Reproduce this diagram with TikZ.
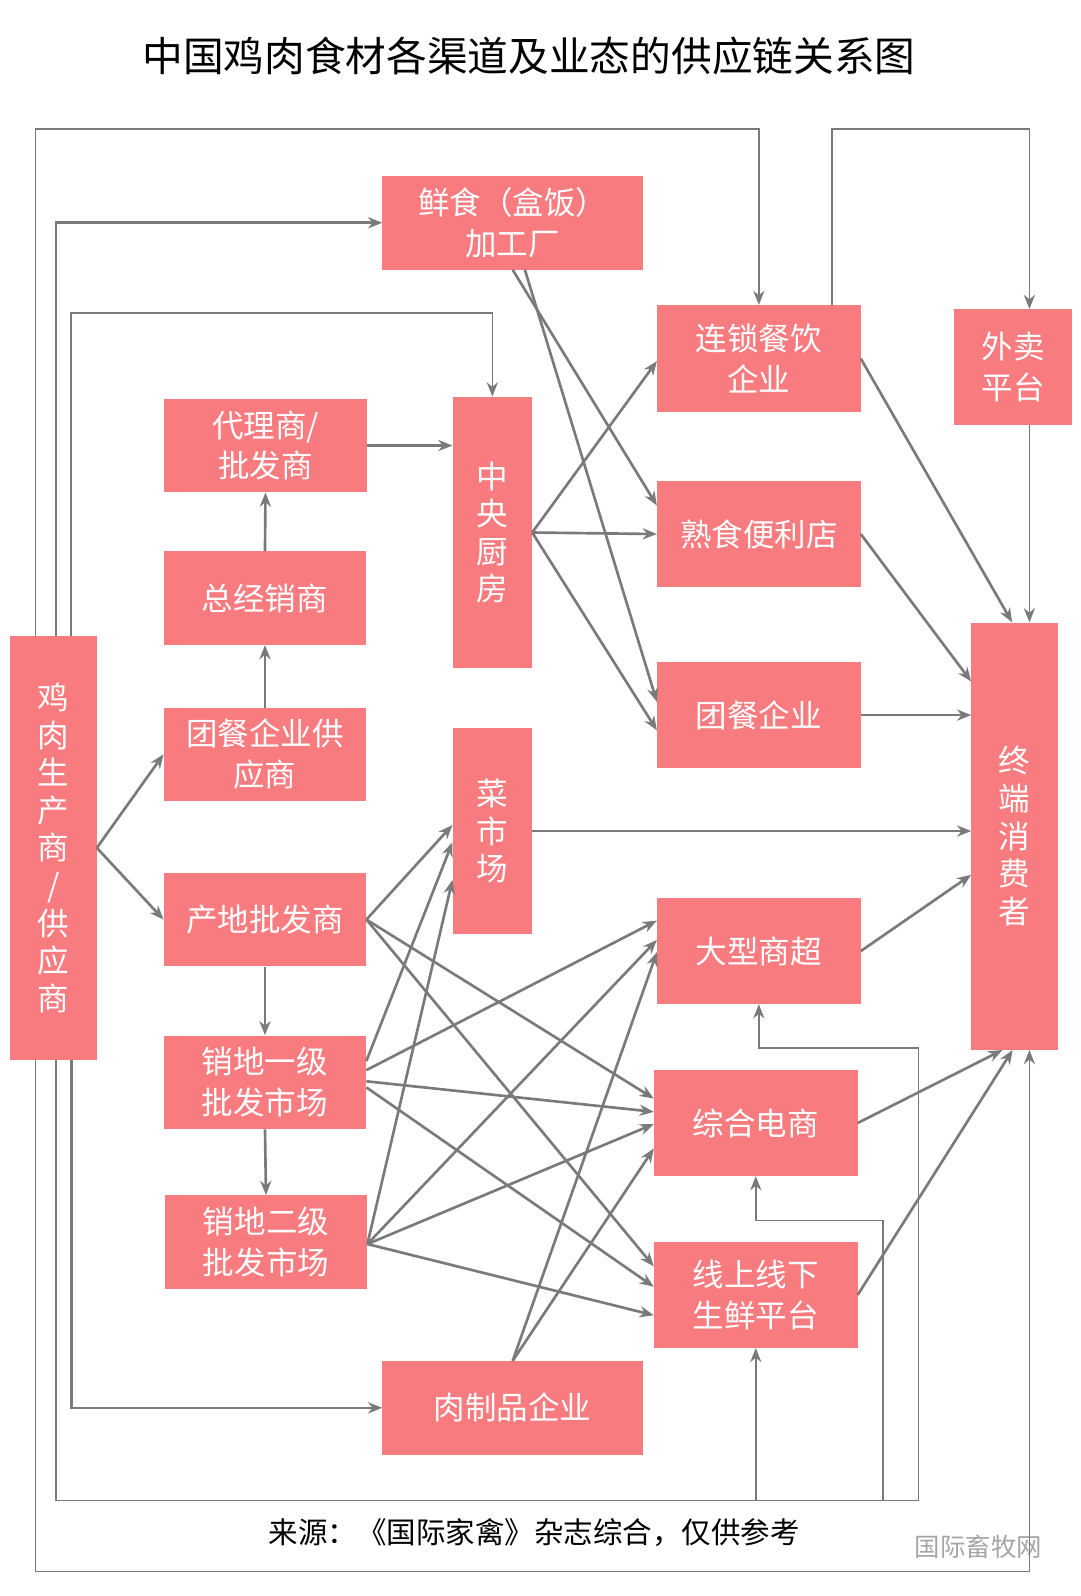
\documentclass[tikz,border=0pt]{standalone}
\usepackage{fontspec}
\setmainfont{Noto Sans CJK SC}
\usetikzlibrary{arrows.meta}
\definecolor{boxred}{HTML}{F77B7F}
\definecolor{linegray}{HTML}{7A7A7A}
\begin{document}
\begin{tikzpicture}[x=1pt, y=-1pt, >={Stealth[length=14pt,width=11pt]},
    box/.style={fill=boxred, text=white, inner sep=0pt, align=center,
                font=\fontsize{31}{40}\selectfont},
    vbox/.style={box, font=\fontsize{31}{37}\selectfont},
    arr/.style={->, draw=linegray, line width=2.6pt},
    ln/.style={draw=linegray, line width=1.6pt}]
   \useasboundingbox[fill=white] (0,0) rectangle (1062,1569);
   \node[font=\fontsize{40}{48}\selectfont] (title) at (520,55) {中国鸡肉食材各渠道及业态的供应链关系图};
   % left column
   \node[vbox, minimum width=85, minimum height=417] (sc) at (52.5,833.5) {鸡\\肉\\生\\产\\商\\/\\供\\应\\商};
   \node[box, minimum width=199, minimum height=92] (dl) at (261,438) {代理商/\\批发商};
   \node[box, minimum width=199, minimum height=92] (zj) at (260.5,588) {总经销商};
   \node[box, minimum width=199, minimum height=91] (tg) at (260.5,741.5) {团餐企业供\\应商};
   \node[box, minimum width=199, minimum height=92] (cd) at (260.5,904) {产地批发商};
   \node[box, minimum width=199, minimum height=92] (x1) at (260.5,1064) {销地一级\\批发市场};
   \node[box, minimum width=199, minimum height=92] (x2) at (261.5,1221) {销地二级\\批发市场};
   % middle column
   \node[box, minimum width=256, minimum height=92] (xs) at (504,219) {鲜食（盒饭）\\加工厂};
   \node[vbox, minimum width=78, minimum height=267] (zc) at (484,523.5) {中\\央\\厨\\房};
   \node[vbox, minimum width=78, minimum height=202] (cs) at (484,817) {菜\\市\\场};
   \node[box, minimum width=256, minimum height=92] (rz) at (504,1384) {肉制品企业};
   % right column
   \node[box, minimum width=200, minimum height=105] (ls) at (746,352.5) {连锁餐饮\\企业};
   \node[box, minimum width=200, minimum height=104] (ss) at (746,525) {熟食便利店};
   \node[box, minimum width=200, minimum height=104] (tq) at (746,703) {团餐企业};
   \node[box, minimum width=200, minimum height=104] (dc) at (746,935) {大型商超};
   \node[box, minimum width=200, minimum height=104] (ds) at (743,1104) {综合电商};
   \node[box, minimum width=200, minimum height=104] (xx) at (743,1273) {线上线下\\生鲜平台};
   \node[box, minimum width=116, minimum height=114] (wm) at (996,361) {外卖\\平台};
   \node[vbox, minimum width=85, minimum height=420] (zd) at (997.5,822) {终\\端\\消\\费\\者};
   % texts at the foot
   \node[font=\fontsize{29}{34}\selectfont] (src) at (525,1507) {来源：《国际家禽》杂志综合，仅供参考};
   \node[font=\fontsize{25}{30}\selectfont, text=gray!70] (wx) at (962,1521) {国际畜牧网};

   % frame lines
   \draw[arr, line width=1.6pt] ([xshift=-17.5]sc.north) |- (ls.north |- 0,127) -- (ls.north);
   \draw[arr] ([xshift=2.5]sc.north) |- (xs.west);
   \draw[arr, line width=1.6pt] ([xshift=17.5]sc.north) |- (zc.north |- 0,308) -- (zc.north);
   \draw[arr, line width=1.6pt] ([xshift=72]ls.north) |- ([xshift=16]wm.north |- 0,127) -- ([xshift=16]wm.north);
   \draw[arr, line width=1.6pt] ([xshift=16]wm.south) -- ([xshift=14.5]zd.north);
   \draw[arr, line width=1.6pt] ([xshift=-17.5]sc.south) |- (1012,1545) -- ([xshift=14.5]zd.south);
   \draw[arr, line width=1.6pt] ([xshift=2.5]sc.south) |- (903,1475) |- (dc.south |- 0,1030) -- (dc.south);
   \draw[arr, line width=1.6pt] (868,1475) |- (ds.south |- 0,1200) -- (ds.south);
   \draw[arr, line width=1.6pt] (xx.south |- 0,1475) -- (xx.south);
   \draw[arr] ([xshift=17.5]sc.south) |- (rz.west);

   % left chains
   \draw[arr] (sc.east) -- (tg.west);
   \draw[arr] (sc.east) -- (cd.west);
   \draw[arr] (tg.north) -- (zj.south);
   \draw[arr] (zj.north) -- (dl.south);
   \draw[arr] (dl.east) -- (zc.west |- dl.east);
   \draw[arr] (cd.south) -- (x1.north);
   \draw[arr] (x1.south) -- (x2.north);

   % kitchen and factory
   \draw[arr] (xs.south) -- (ss.west |- 0,497);
   \draw[arr] ([xshift=12]xs.south) -- (tq.west |- 0,690);
   \draw[arr] (zc.east) -- (ls.west |- 0,355);
   \draw[arr] (zc.east) -- (ss.west);
   \draw[arr] (zc.east) -- (tq.west |- 0,718);

   % wholesale markets
   \draw[arr] (cd.east) -- (cs.west |- 0,811);
   \draw[arr] (cd.east) -- (ds.west |- 0,1080);
   \draw[arr] (cd.east) -- (xx.west |- 0,1245);
   \draw[arr] (x1.east |- 0,1043) -- (cs.west |- 0,828);
   \draw[arr] (x1.east |- 0,1052) -- (dc.west |- 0,905);
   \draw[arr] (x1.east |- 0,1063) -- (ds.west |- 0,1093);
   \draw[arr] (x1.east |- 0,1069) -- (xx.west |- 0,1265);
   \draw[arr] (x2.east |- 0,1223) -- (cs.west |- 0,865);
   \draw[arr] (x2.east |- 0,1223) -- (dc.west |- 0,924);
   \draw[arr] (x2.east |- 0,1223) -- (ds.west |- 0,1105);
   \draw[arr] (x2.east |- 0,1223) -- (xx.west |- 0,1293);
   \draw[arr] (rz.north) -- (dc.west |- 0,936);
   \draw[arr] (rz.north) -- (ds.west |- 0,1129);

   % to consumers
   \draw[arr] (ls.east) -- ([xshift=-2.5]zd.north);
   \draw[arr] (ss.east) -- (zd.west |- 0,670);
   \draw[arr] (tq.east) -- (zd.west |- tq.east);
   \draw[arr] (cs.east) -- (zd.west |- cs.east);
   \draw[arr] (dc.east) -- (zd.west |- 0,860);
   \draw[arr] (ds.east) -- ([xshift=-12]zd.south);
   \draw[arr] (xx.east) -- ([xshift=-2]zd.south);
\end{tikzpicture}
\end{document}
